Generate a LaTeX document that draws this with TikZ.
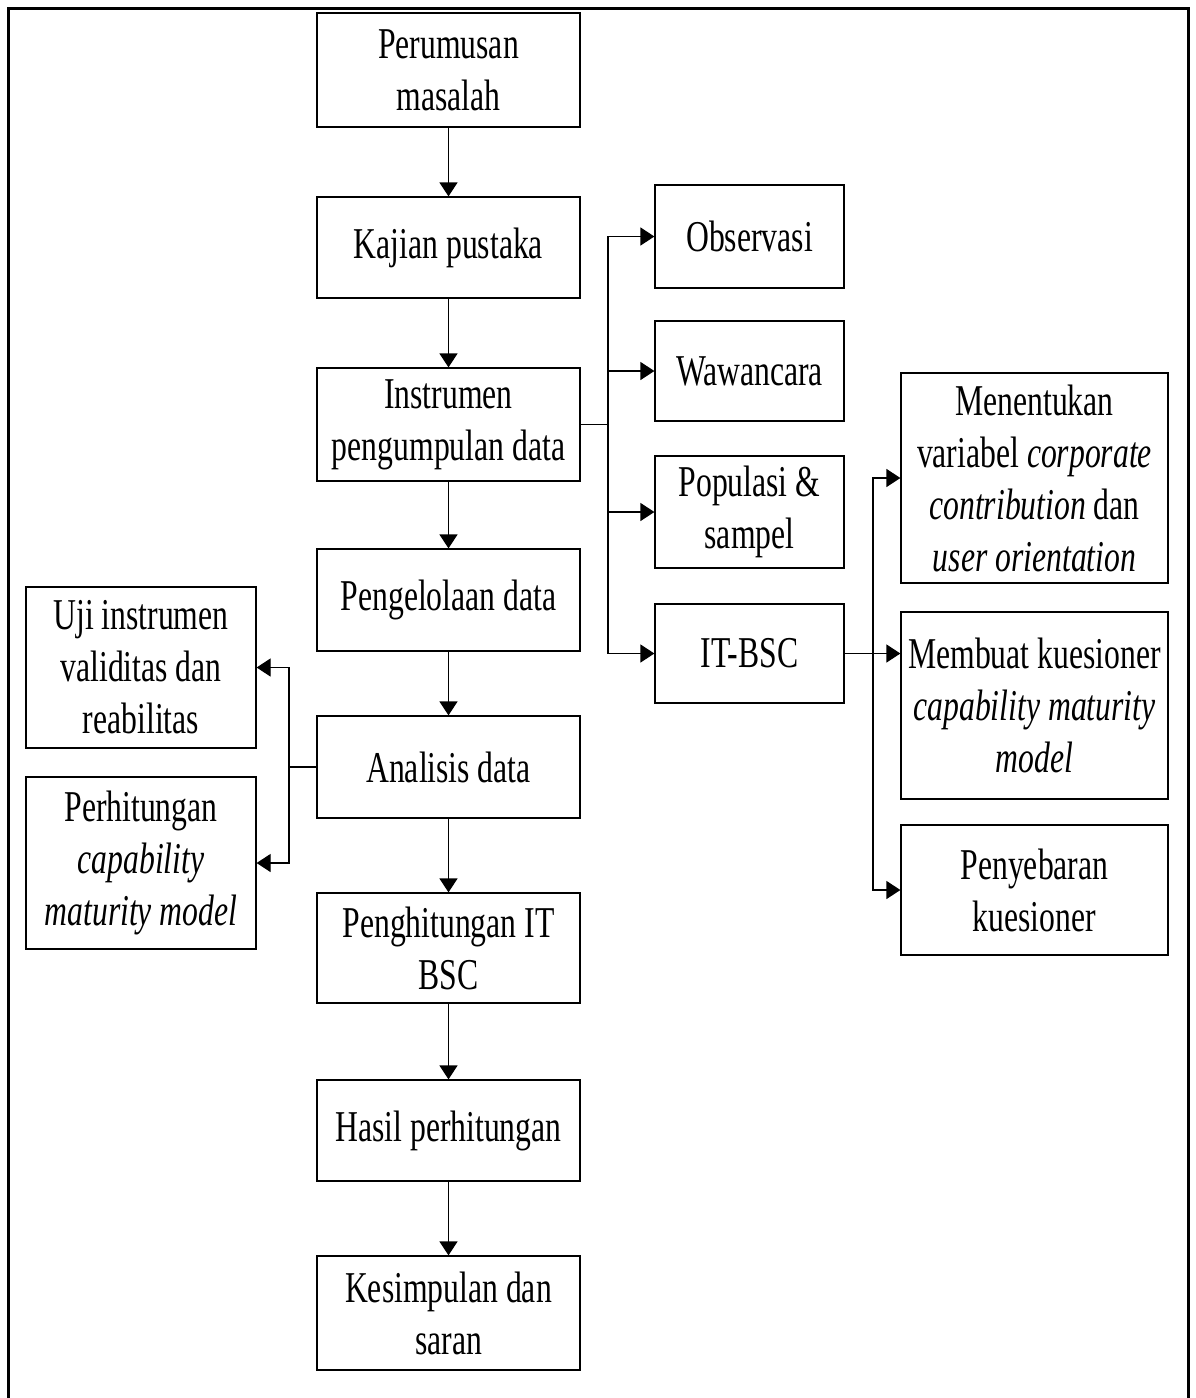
\documentclass[tikz,border=0pt]{standalone}
\usepackage{fontspec}
\setmainfont[FakeStretch=0.72]{Liberation Serif}
\usetikzlibrary{arrows.meta}

\begin{document}
\begin{tikzpicture}
  [x=1pt,y=-1pt,
   every node/.style={draw,line width=1.2pt,inner sep=0pt,align=center,
     font=\fontsize{44}{52}\selectfont},
   arr/.style={line width=1.2pt,-{Triangle[length=14pt,width=18pt]}},
   ln/.style={line width=1.2pt}]
  \useasboundingbox (0,0) rectangle (1195,1398);
  \draw[line width=3pt] (8,1398) -- (8,8) -- (1188,8) -- (1188,1398);

  % main column
  \node[minimum width=263pt,minimum height=114pt] (perumusan) at (448.5,70) {Perumusan\\masalah};
  \node[minimum width=263pt,minimum height=101pt] (kajian) at (448.5,247.5) {Kajian pustaka};
  \node[minimum width=263pt,minimum height=113pt] (instrumen) at (448.5,424.5) {Instrumen\\pengumpulan data};
  \node[minimum width=263pt,minimum height=102pt] (pengelolaan) at (448.5,600) {Pengelolaan data};
  \node[minimum width=263pt,minimum height=102pt] (analisis) at (448.5,767) {Analisis data};
  \node[minimum width=263pt,minimum height=110pt] (penghitungan) at (448.5,948) {Penghitungan IT\\BSC};
  \node[minimum width=263pt,minimum height=101pt] (hasil) at (448.5,1130.5) {Hasil perhitungan};
  \node[minimum width=263pt,minimum height=114pt] (kesimpulan) at (448.5,1313) {Kesimpulan dan\\saran};

  % data collection
  \node[minimum width=189pt,minimum height=103pt] (observasi) at (749.5,236.5) {Observasi};
  \node[minimum width=189pt,minimum height=100pt] (wawancara) at (749.5,371) {Wawancara};
  \node[minimum width=189pt,minimum height=112pt] (populasi) at (749.5,512) {Populasi \&\\sampel};
  \node[minimum width=189pt,minimum height=99pt] (itbsc) at (749.5,653.5) {IT-BSC};

  % IT-BSC steps
  \node[minimum width=267pt,minimum height=210pt] (menentukan) at (1034.5,478)
    {Menentukan\\variabel \textit{corporate}\\\textit{contribution} dan\\\textit{user orientation}};
  \node[minimum width=267pt,minimum height=187pt] (membuat) at (1034.5,705.5)
    {Membuat kuesioner\\\textit{capability maturity}\\\textit{model}};
  \node[minimum width=267pt,minimum height=130pt] (penyebaran) at (1034.5,890) {Penyebaran\\kuesioner};

  % analysis
  \node[minimum width=230pt,minimum height=161pt] (uji) at (141,667.5) {Uji instrumen\\validitas dan\\reabilitas};
  \node[minimum width=230pt,minimum height=172pt] (perhitungan) at (141,863)
    {Perhitungan\\\textit{capability}\\\textit{maturity model}};

  \foreach \from/\to in {perumusan/kajian,kajian/instrumen,instrumen/pengelolaan,
      pengelolaan/analisis,analisis/penghitungan,penghitungan/hasil,hasil/kesimpulan}
    \draw[arr] (\from) -- (\to);

  \coordinate (bra) at (608,424.5);
  \draw[ln] (instrumen) -- (bra);
  \foreach \to in {observasi,wawancara,populasi,itbsc}
    \draw[arr] (bra) |- (\to);

  \coordinate (brb) at (873,653.5);
  \draw[arr] (itbsc) -- (membuat.west |- itbsc);
  \foreach \to in {menentukan,penyebaran}
    \draw[arr] (brb) |- (\to);

  \coordinate (brc) at (289,767);
  \draw[ln] (analisis) -- (brc);
  \foreach \to in {uji,perhitungan}
    \draw[arr] (brc) |- (\to);

\end{tikzpicture}
\end{document}
